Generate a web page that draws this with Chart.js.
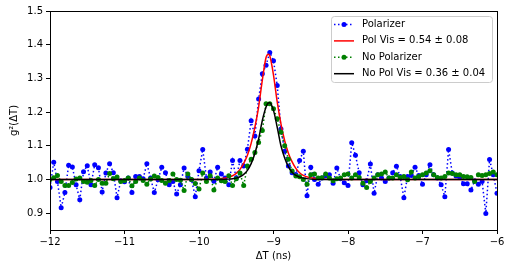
<!DOCTYPE html>
<html>
<head>
<meta charset="utf-8">
<script src="https://cdn.jsdelivr.net/npm/chart.js@4"></script>
<style>
  body { margin: 0; background: #fff; }
  canvas { display: block; }
</style>
</head>
<body>
<canvas id="myChart" width="510" height="269"></canvas>
<script>
// delay axis (ns), one point every 0.05 ns
const delayNs = [
  -12, -11.95, -11.9, -11.85, -11.8, -11.75, -11.7, -11.65, -11.6, -11.55,
  -11.5, -11.45, -11.4, -11.35, -11.3, -11.25, -11.2, -11.15, -11.1, -11.05,
  -11, -10.95, -10.9, -10.85, -10.8, -10.75, -10.7, -10.65, -10.6, -10.55,
  -10.5, -10.45, -10.4, -10.35, -10.3, -10.25, -10.2, -10.15, -10.1, -10.05,
  -10, -9.95, -9.9, -9.85, -9.8, -9.75, -9.7, -9.65, -9.6, -9.55,
  -9.5, -9.45, -9.4, -9.35, -9.3, -9.25, -9.2, -9.15, -9.1, -9.05,
  -9, -8.95, -8.9, -8.85, -8.8, -8.75, -8.7, -8.65, -8.6, -8.55,
  -8.5, -8.45, -8.4, -8.35, -8.3, -8.25, -8.2, -8.15, -8.1, -8.05,
  -8, -7.95, -7.9, -7.85, -7.8, -7.75, -7.7, -7.65, -7.6, -7.55,
  -7.5, -7.45, -7.4, -7.35, -7.3, -7.25, -7.2, -7.15, -7.1, -7.05,
  -7, -6.95, -6.9, -6.85, -6.8, -6.75, -6.7, -6.65, -6.6, -6.55,
  -6.5, -6.45, -6.4, -6.35, -6.3, -6.25, -6.2, -6.15, -6.1, -6.05,
  -6
];

const polarizer = [
  0.976, 1.051, 0.994, 0.916, 0.961, 1.042, 1.037, 0.984, 0.94, 1.023,
  1.041, 0.984, 1.044, 1.035, 0.963, 1.019, 1.047, 1.02, 0.946, 0.996,
  0.993, 1.004, 0.961, 1.009, 1.009, 1.002, 1.047, 1.004, 0.961, 0.999,
  1.036, 1.02, 0.984, 0.994, 0.957, 0.984, 1.034, 1.009, 0.999, 0.949,
  1.026, 1.089, 1.004, 1.022, 0.995, 1.036, 1.016, 1.004, 0.984, 1.056,
  1.004, 1.056, 1.04, 1.09, 1.174, 1.129, 1.239, 1.314, 1.339, 1.377,
  1.352, 1.279, 1.15, 1.084, 1.04, 1.02, 1.015, 1.056, 1.084, 0.952,
  1.036, 1.0, 0.986, 1.004, 1.011, 1.014, 0.989, 1.034, 1.002, 0.99,
  0.982, 1.109, 1.072, 1.02, 0.984, 0.996, 1.046, 0.959, 1.014, 1.004,
  0.994, 1.004, 1.02, 1.039, 1.009, 0.946, 1.009, 1.012, 1.036, 1.012,
  0.986, 1.014, 1.044, 1.014, 1.004, 0.984, 0.949, 1.089, 1.019, 1.01,
  1.006, 0.987, 0.987, 0.969, 0.996, 0.986, 0.994, 0.899, 1.059, 1.014,
  0.959
];

const noPolarizer = [
  1.0, 1.005, 1.012, 0.994, 0.982, 0.982, 0.991, 1.001, 1.004, 0.994,
  0.992, 0.997, 0.982, 1.0, 0.989, 0.989, 1.018, 1.002, 1.007, 0.994,
  0.997, 1.004, 0.981, 0.994, 1.004, 0.997, 0.986, 1.001, 1.010, 1.006,
  0.997, 0.989, 0.997, 1.016, 1.0, 0.998, 0.967, 1.016, 1.0, 0.988,
  0.972, 1.019, 0.994, 1.011, 0.969, 1.004, 0.996, 0.994, 1.011, 0.982,
  1.002, 1.019, 0.982, 1.04, 1.06, 1.08, 1.11, 1.145, 1.225, 1.225,
  1.21, 1.18, 1.14, 1.1, 1.06, 1.025, 1.01, 1.008, 1.0, 0.986,
  1.014, 1.016, 1.004, 1.005, 1.016, 1.004, 0.996, 1.002, 1.004, 1.014,
  1.016, 1.004, 1.014, 1.006, 0.989, 0.976, 0.994, 1.004, 1.014, 1.016,
  1.022, 1.004, 1.004, 1.014, 1.006, 1.009, 0.999, 1.022, 1.004, 1.009,
  1.014, 1.019, 1.026, 1.014, 1.006, 1.004, 1.009, 1.019, 1.018, 1.014,
  1.014, 1.009, 1.008, 1.006, 0.994, 1.014, 1.012, 1.014, 1.018, 1.022,
  1.014
];

// fitted curves
const fitDelay = [-12, -10, -9.8, -9.7, -9.6, -9.55, -9.5, -9.45, -9.4, -9.35,
  -9.3, -9.25, -9.2, -9.15, -9.1, -9.07, -9.05, -9.0, -8.95, -8.9,
  -8.85, -8.8, -8.75, -8.7, -8.65, -8.6, -8.5, -8.4, -8.2, -8, -6];
const polFit = [1.0, 1.0, 1.001, 1.003, 1.007, 1.011, 1.018, 1.03, 1.048, 1.072,
  1.107, 1.155, 1.215, 1.295, 1.362, 1.372, 1.367, 1.31, 1.23, 1.165,
  1.115, 1.078, 1.052, 1.033, 1.02, 1.012, 1.005, 1.002, 1.0, 1.0, 1.0];
const noPolFit = [1.0, 1.0, 1.0, 1.0, 1.001, 1.002, 1.004, 1.008, 1.015, 1.027,
  1.047, 1.077, 1.12, 1.175, 1.215, 1.227, 1.228, 1.205, 1.155, 1.10,
  1.064, 1.038, 1.021, 1.012, 1.007, 1.004, 1.001, 1.0, 1.0, 1.0, 1.0];

const seriesLabels = ['Polarizer', 'Pol Vis = 0.54 \u00b1 0.08', 'No Polarizer', 'No Pol Vis = 0.36 \u00b1 0.04'];
const xTicks = [-12, -11, -10, -9, -8, -7, -6];
const yTicks = [0.9, 1.0, 1.1, 1.2, 1.3, 1.4, 1.5];

const FONT = 'DejaVu Sans';

function pts(xs, ys) {
  return xs.map(function(x, i) { return {x: x, y: ys[i]}; });
}

// box round the axes + legend in the top right, matplotlib style
const framePlugin = {
  id: 'frame',
  afterDraw: function(chart) {
    const ctx = chart.ctx;
    const a = chart.chartArea;
    ctx.save();
    ctx.strokeStyle = '#000';
    ctx.lineWidth = 1;
    ctx.strokeRect(Math.round(a.left) + 0.5, Math.round(a.top) + 0.5,
      Math.round(a.right - a.left), Math.round(a.bottom - a.top));

    // legend
    const bx = a.right - 166, by = a.top + 5, bw = 161, bh = 66;
    ctx.beginPath();
    ctx.roundRect(bx + 0.5, by + 0.5, bw, bh, 3);
    ctx.fillStyle = 'rgba(255,255,255,0.8)';
    ctx.fill();
    ctx.strokeStyle = '#cccccc';
    ctx.stroke();

    ctx.font = '10px "' + FONT + '"';
    ctx.textBaseline = 'middle';
    ctx.textAlign = 'left';
    chart.data.datasets.forEach(function(ds, i) {
      const y = by + 8.5 + i * 16.4;
      const x0 = bx + 3, x1 = bx + 23;
      ctx.strokeStyle = ds.borderColor;
      ctx.lineWidth = 1.5;
      ctx.setLineDash(ds.borderDash || []);
      ctx.beginPath();
      ctx.moveTo(x0, y);
      ctx.lineTo(x1, y);
      ctx.stroke();
      ctx.setLineDash([]);
      if (ds.pointRadius > 0) {
        ctx.fillStyle = ds.borderColor;
        ctx.beginPath();
        ctx.arc((x0 + x1) / 2, y, ds.pointRadius, 0, Math.PI * 2);
        ctx.fill();
      }
      ctx.fillStyle = '#000';
      ctx.fillText(ds.label, bx + 31, y);
    });
    ctx.restore();
  }
};

const config = {
  type: 'line',
  data: {
    datasets: [
      {
        label: seriesLabels[0],
        data: pts(delayNs, polarizer),
        borderColor: '#0000ff',
        backgroundColor: '#0000ff',
        borderWidth: 1.5,
        borderDash: [1.5, 2.5],
        pointRadius: 2.5,
        pointBorderWidth: 0,
        pointBackgroundColor: '#0000ff',
        order: 4
      },
      {
        label: seriesLabels[1],
        data: pts(fitDelay, polFit),
        borderColor: '#ff0000',
        borderWidth: 1.5,
        pointRadius: 0,
        cubicInterpolationMode: 'monotone',
        order: 3
      },
      {
        label: seriesLabels[2],
        data: pts(delayNs, noPolarizer),
        borderColor: '#008000',
        backgroundColor: '#008000',
        borderWidth: 1.5,
        borderDash: [1.5, 2.5],
        pointRadius: 2.5,
        pointBorderWidth: 0,
        pointBackgroundColor: '#008000',
        order: 2
      },
      {
        label: seriesLabels[3],
        data: pts(fitDelay, noPolFit),
        borderColor: '#000000',
        borderWidth: 1.5,
        pointRadius: 0,
        cubicInterpolationMode: 'monotone',
        order: 1
      }
    ]
  },
  options: {
    responsive: false,
    animation: false,
    events: [],
    layout: { padding: { top: 11, right: 13, left: 0, bottom: 0 } },
    plugins: {
      legend: { display: false },
      tooltip: { enabled: false }
    },
    scales: {
      x: {
        type: 'linear',
        min: -12,
        max: -6,
        afterBuildTicks: function(s) { s.ticks = xTicks.map(function(v) { return {value: v}; }); },
        afterFit: function(s) { s.height = 39; },
        grid: { drawOnChartArea: false, drawTicks: true, tickLength: 4, color: '#000' },
        border: { display: true, color: '#000' },
        ticks: {
          color: '#000',
          font: { family: FONT, size: 10 },
          padding: 2,
          maxRotation: 0,
          callback: function(v) { return (v < 0 ? '\u2212' : '') + Math.abs(v); }
        },
        title: {
          display: true,
          text: '\u0394T (ns)',
          color: '#000',
          font: { family: FONT, size: 10 },
          padding: { top: 0, bottom: 7 }
        }
      },
      y: {
        min: 0.85,
        max: 1.5,
        afterBuildTicks: function(s) { s.ticks = yTicks.map(function(v) { return {value: v}; }); },
        afterFit: function(s) { s.width = 50; },
        grid: { drawOnChartArea: false, drawTicks: true, tickLength: 4, color: '#000' },
        border: { display: true, color: '#000' },
        ticks: {
          color: '#000',
          font: { family: FONT, size: 10 },
          padding: 3,
          callback: function(v) { return v.toFixed(1); }
        },
        title: {
          display: true,
          text: 'g\u00b2(\u0394T)',
          color: '#000',
          font: { family: FONT, size: 10 },
          padding: { top: 8, bottom: 0 }
        }
      }
    }
  },
  plugins: [framePlugin]
};

let ctx = document.getElementById('myChart');
let myChart = new Chart(ctx, config);
</script>
</body>
</html>
